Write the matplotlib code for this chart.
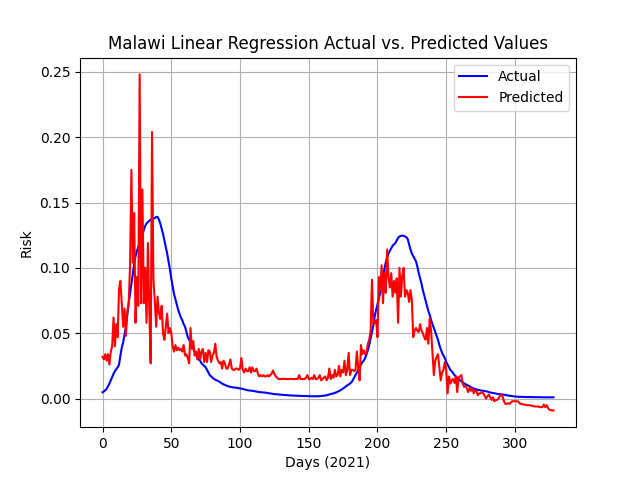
import numpy as np
import matplotlib
matplotlib.use("Agg")
import matplotlib.pyplot as plt

title = "Malawi Linear Regression Actual vs. Predicted Values"
x_label = "Days (2021)"
y_label = "Risk"

actual = [
    0.0049, 0.0055, 0.0065, 0.0075, 0.0095, 0.0115, 0.014, 0.0165, 0.019, 0.021,
    0.0225, 0.024, 0.026, 0.033, 0.039, 0.043, 0.049, 0.055, 0.064, 0.073,
    0.080, 0.088, 0.095, 0.103, 0.109, 0.113, 0.116, 0.119, 0.122, 0.125,
    0.129, 0.132, 0.134, 0.135, 0.136, 0.137, 0.137, 0.138, 0.138, 0.139,
    0.139, 0.137, 0.134, 0.130, 0.126, 0.121, 0.116, 0.111, 0.105, 0.099,
    0.092, 0.086, 0.080, 0.076, 0.072, 0.068, 0.065, 0.062, 0.060, 0.057,
    0.055, 0.051, 0.047, 0.045, 0.043, 0.040, 0.038, 0.036, 0.034, 0.031,
    0.030, 0.029, 0.027, 0.026, 0.025, 0.024, 0.022, 0.020, 0.018, 0.017,
    0.016, 0.015, 0.0145, 0.014, 0.0135, 0.013, 0.0122, 0.0115, 0.011, 0.0105,
    0.010, 0.0096, 0.0093, 0.009, 0.0088, 0.0086, 0.0085, 0.0084, 0.0082, 0.008,
    0.0078, 0.0076, 0.0074, 0.0071, 0.0068, 0.0065, 0.0063, 0.0062, 0.0061, 0.006,
    0.0058, 0.0056, 0.0054, 0.0052, 0.005, 0.0049, 0.0048, 0.0047, 0.0046, 0.0045,
    0.0043, 0.0041, 0.004, 0.0038, 0.0036, 0.0035, 0.0034, 0.0033, 0.0032, 0.0031,
    0.003, 0.0029, 0.0028, 0.0027, 0.0027, 0.0026, 0.0025, 0.0024, 0.0024, 0.0023,
    0.0023, 0.0022, 0.0022, 0.0021, 0.0021, 0.0021, 0.002, 0.002, 0.002, 0.0019,
    0.0019, 0.0019, 0.0018, 0.0018, 0.0018, 0.0018, 0.0018, 0.0019, 0.0019, 0.002,
    0.0021, 0.0022, 0.0024, 0.0026, 0.0029, 0.0032, 0.0035, 0.0038, 0.004, 0.0044,
    0.0048, 0.0053, 0.0058, 0.0064, 0.007, 0.0077, 0.0085, 0.0094, 0.0102, 0.0108,
    0.0115, 0.0125, 0.014, 0.016, 0.018, 0.020, 0.022, 0.024, 0.026, 0.028,
    0.029, 0.031, 0.034, 0.037, 0.041, 0.046, 0.051, 0.056, 0.063, 0.068,
    0.072, 0.077, 0.081, 0.087, 0.093, 0.099, 0.104, 0.108, 0.111, 0.113,
    0.115, 0.117, 0.118, 0.119, 0.121, 0.123, 0.124, 0.1245, 0.1247, 0.1245,
    0.124, 0.1235, 0.122, 0.118, 0.114, 0.111, 0.109, 0.107, 0.105, 0.101,
    0.096, 0.092, 0.088, 0.083, 0.079, 0.075, 0.071, 0.067, 0.064, 0.060,
    0.057, 0.054, 0.051, 0.048, 0.045, 0.041, 0.038, 0.035, 0.033, 0.031,
    0.028, 0.026, 0.024, 0.022, 0.021, 0.0195, 0.018, 0.017, 0.016, 0.015,
    0.014, 0.0133, 0.0125, 0.0117, 0.011, 0.0105, 0.010, 0.0093, 0.0088, 0.0083,
    0.0078, 0.0074, 0.007, 0.0067, 0.0065, 0.0063, 0.0061, 0.006, 0.0058, 0.0056,
    0.0054, 0.0049, 0.0047, 0.0045, 0.0043, 0.0041, 0.0039, 0.0037, 0.0035, 0.0034,
    0.0033, 0.0031, 0.003, 0.0028, 0.0026, 0.0024, 0.0022, 0.0021, 0.0019, 0.0018,
    0.0016, 0.0015, 0.0015, 0.0014, 0.0014, 0.0013, 0.0013, 0.0013, 0.0012, 0.0012,
    0.0012, 0.0012, 0.0012, 0.0011, 0.0011, 0.0011, 0.0011, 0.0011, 0.0011, 0.0011,
    0.001, 0.001, 0.001, 0.001, 0.001, 0.001, 0.001, 0.001, 0.001,
]

predicted = [
    0.032, 0.030, 0.034, 0.029, 0.034, 0.026, 0.036, 0.040, 0.062, 0.040,
    0.057, 0.047, 0.084, 0.090, 0.072, 0.055, 0.069, 0.048, 0.067, 0.072,
    0.101, 0.175, 0.104, 0.142, 0.058, 0.093, 0.071, 0.248, 0.073, 0.160,
    0.073, 0.100, 0.058, 0.119, 0.069, 0.027, 0.204, 0.091, 0.075, 0.055,
    0.078, 0.066, 0.061, 0.071, 0.050, 0.045, 0.055, 0.065, 0.050, 0.054,
    0.050, 0.040, 0.036, 0.041, 0.037, 0.039, 0.037, 0.038, 0.036, 0.041,
    0.033, 0.034, 0.031, 0.027, 0.054, 0.038, 0.044, 0.033, 0.036, 0.030,
    0.038, 0.030, 0.036, 0.038, 0.028, 0.035, 0.028, 0.037, 0.036, 0.028,
    0.033, 0.035, 0.042, 0.032, 0.029, 0.027, 0.028, 0.023, 0.029, 0.027,
    0.023, 0.023, 0.026, 0.030, 0.023, 0.022, 0.022, 0.023, 0.023, 0.022,
    0.023, 0.031, 0.022, 0.020, 0.023, 0.021, 0.021, 0.024, 0.020, 0.024,
    0.021, 0.021, 0.023, 0.019, 0.017, 0.018, 0.017, 0.018, 0.017, 0.017,
    0.018, 0.017, 0.018, 0.019, 0.0215, 0.019, 0.017, 0.016, 0.015, 0.015,
    0.015, 0.0152, 0.015, 0.0151, 0.015, 0.0149, 0.015, 0.0151, 0.015, 0.015,
    0.015, 0.0151, 0.015, 0.018, 0.015, 0.015, 0.015, 0.015, 0.016, 0.018,
    0.015, 0.015, 0.016, 0.015, 0.018, 0.015, 0.015, 0.016, 0.018, 0.014,
    0.015, 0.016, 0.017, 0.014, 0.016, 0.023, 0.015, 0.018, 0.016, 0.022,
    0.017, 0.018, 0.025, 0.017, 0.022, 0.020, 0.029, 0.018, 0.022, 0.035,
    0.018, 0.022, 0.022, 0.021, 0.022, 0.036, 0.023, 0.014, 0.041, 0.034,
    0.037, 0.034, 0.035, 0.042, 0.045, 0.052, 0.091, 0.057, 0.058, 0.060,
    0.047, 0.093, 0.083, 0.102, 0.073, 0.096, 0.081, 0.114, 0.093, 0.085,
    0.096, 0.078, 0.090, 0.081, 0.092, 0.058, 0.100, 0.078, 0.094, 0.100,
    0.078, 0.083, 0.081, 0.074, 0.083, 0.075, 0.047, 0.052, 0.054, 0.052,
    0.051, 0.057, 0.052, 0.050, 0.047, 0.045, 0.054, 0.042, 0.061, 0.052,
    0.035, 0.018, 0.029, 0.032, 0.034, 0.024, 0.014, 0.020, 0.022, 0.028,
    0.022, 0.004, 0.017, 0.0115, 0.014, 0.015, 0.012, 0.017, 0.005, 0.016,
    0.017, 0.018, 0.0115, 0.009, 0.010, 0.008, 0.005, 0.008, 0.006, 0.008,
    0.004, 0.006, 0.006, 0.0026, 0.004, 0.004, 0.005, 0.004, 0.002, 0.000,
    0.002, 0.003, 0.001, -0.001, 0.001, -0.002, -0.001, -0.001, 0.000, 0.002,
    0.003, 0.0015, -0.002, -0.004, -0.004, -0.0035, -0.004, -0.003, -0.002, -0.002,
    -0.002, -0.002, -0.002, -0.003, -0.004, -0.004, -0.0045, -0.0045, -0.005, -0.005,
    -0.005, -0.005, -0.0055, -0.0055, -0.006, -0.006, -0.006, -0.006, -0.0065, -0.0065,
    -0.0065, -0.0045, -0.0065, -0.005, -0.007, -0.0085, -0.0088, -0.009, -0.009,
]

assert len(actual) == 329, len(actual)
assert len(predicted) == 329, len(predicted)
days = np.arange(len(actual))

fig, ax = plt.subplots(figsize=(6.4, 4.8), dpi=100)
ax.plot(days, actual, color="blue", label="Actual")
ax.plot(days, predicted, color="red", label="Predicted")
ax.set_title(title)
ax.set_xlabel(x_label)
ax.set_ylabel(y_label)
ax.grid(True)
ax.legend(loc="upper right")
fig.savefig("out.png", dpi=100)
